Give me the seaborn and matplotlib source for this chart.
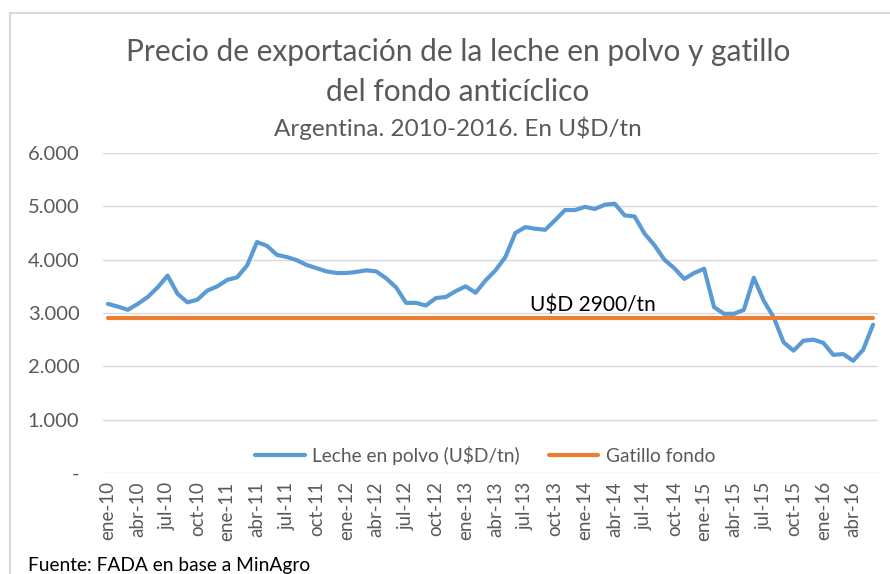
import pandas as pd
import seaborn as sns
import matplotlib.pyplot as plt
from matplotlib.patches import Rectangle
from matplotlib.ticker import FuncFormatter

# --- DATA (U$D/tn, mensual ene-10 a jun-16) ---
MESES = ["ene", "feb", "mar", "abr", "may", "jun",
         "jul", "ago", "sep", "oct", "nov", "dic"]
ANIOS = ["10", "11", "12", "13", "14", "15", "16"]

leche_polvo = [
    3170, 3120, 3060, 3170, 3300, 3480, 3700, 3360, 3200, 3250, 3420, 3500,  # 2010
    3620, 3670, 3890, 4330, 4260, 4090, 4050, 3990, 3900, 3840, 3780, 3750,  # 2011
    3750, 3770, 3800, 3780, 3650, 3480, 3190, 3190, 3140, 3280, 3300, 3410,  # 2012
    3500, 3380, 3610, 3800, 4050, 4500, 4610, 4580, 4560, 4740, 4930, 4930,  # 2013
    4990, 4950, 5030, 5050, 4830, 4810, 4490, 4270, 4000, 3840, 3640, 3750,  # 2014
    3830, 3110, 2985, 2985, 3060, 3660, 3230, 2920, 2450, 2295, 2480, 2500,  # 2015
    2440, 2215, 2230, 2105, 2310, 2780,                                      # 2016
]
gatillo = [2900] * len(leche_polvo)

fechas = [f"{m}-{a}" for a in ANIOS for m in MESES][:len(leche_polvo)]

df = pd.DataFrame({
    "pos": range(len(fechas)),
    "fecha": fechas,
    "leche": leche_polvo,
    "gatillo": gatillo,
})

# --- STYLE ---
sns.set_style("white")
plt.rcParams["font.family"] = ["Lato", "DejaVu Sans"]
GRIS = "#595959"
AZUL = "#5B9BD5"
NARANJA = "#ED7D31"

fig = plt.figure(figsize=(8.9, 5.74), dpi=100)
ax = fig.add_axes([103 / 890, 1 - 473 / 574, 775 / 890, 320 / 574])

# marco del grafico
fig.patches.append(Rectangle((10 / 890, -0.1), 1.2, 1 - 13 / 574 + 0.1,
                             transform=fig.transFigure, fill=False,
                             edgecolor="#d9d9d9", lw=1.5))

sns.lineplot(data=df, x="pos", y="leche", ax=ax, color=AZUL, lw=3,
             label="Leche en polvo (U$D/tn)")
sns.lineplot(data=df, x="pos", y="gatillo", ax=ax, color=NARANJA, lw=3,
             label="Gatillo fondo")

ax.set_xlim(-0.5, len(fechas) - 0.5)
ax.set_ylim(0, 6000)
ax.set_yticks(range(0, 6001, 1000))
ax.yaxis.set_major_formatter(FuncFormatter(
    lambda v, p: "-" if v == 0 else f"{int(v):,}".replace(",", ".")))
ax.grid(axis="y", color="#d9d9d9", lw=1)
ax.set_axisbelow(True)

ticks = df["pos"][::3]
ax.set_xticks(ticks)
ax.set_xticklabels(df["fecha"][::3], rotation=90)
ax.tick_params(axis="y", colors=GRIS, labelsize=14.5, length=0, pad=17)
ax.tick_params(axis="x", colors=GRIS, labelsize=13.5, length=0, pad=6)
ax.set_xlabel("")
ax.set_ylabel("")
for s in ax.spines.values():
    s.set_visible(False)

ax.text(42.5, 2960, "U$D 2900/tn", fontsize=15, color="black", va="bottom")

leg = ax.legend(loc="center", bbox_to_anchor=(0.493, 0.056), ncol=2,
                frameon=False, fontsize=13.8, handlelength=2.6,
                columnspacing=1.5, handletextpad=0.4)
for t in leg.get_texts():
    t.set_color(GRIS)

# --- TITULOS ---
fig.text(458 / 890, 1 - 52 / 574, "Precio de exportación de la leche en polvo y gatillo",
         ha="center", va="center", fontsize=21.5, color=GRIS)
fig.text(458 / 890, 1 - 92 / 574, "del fondo anticíclico",
         ha="center", va="center", fontsize=21.5, color=GRIS)
fig.text(458 / 890, 1 - 128 / 574, "Argentina. 2010-2016. En U$D/tn",
         ha="center", va="center", fontsize=17.5, color=GRIS)
fig.text(28 / 890, 1 - 565 / 574, "Fuente: FADA en base a MinAgro",
         ha="left", va="center", fontsize=13.8, color="black")

plt.savefig("out.png", dpi=100)
